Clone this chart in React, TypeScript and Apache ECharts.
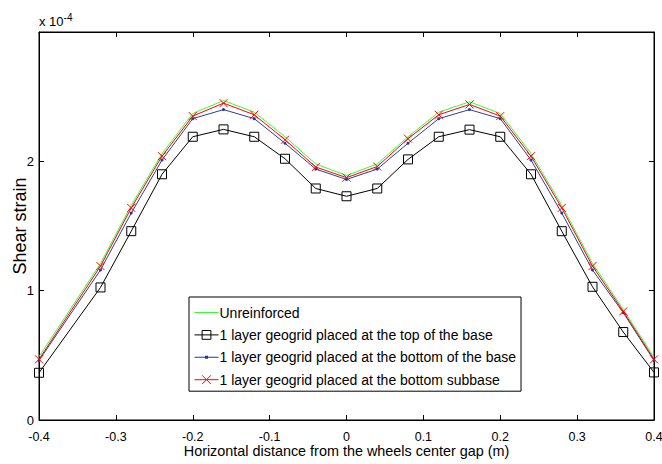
import React, { useEffect, useRef } from "react";
import * as echarts from "echarts";

// Horizontal positions (m) of the sampled points
const distance = [-0.4, -0.32, -0.28, -0.24, -0.2, -0.16, -0.12, -0.08, -0.04, 0, 0.04, 0.08, 0.12, 0.16, 0.2, 0.24, 0.28, 0.32, 0.36, 0.4];

// Shear strain values, in units of 1e-4
const unreinforced = [0.49, 1.21, 1.66, 2.06, 2.37, 2.47, 2.38, 2.19, 1.98, 1.89, 1.98, 2.19, 2.38, 2.46, 2.37, 2.06, 1.66, 1.21, 0.855, 0.485];
const topOfBase = [0.365, 1.025, 1.46, 1.9, 2.19, 2.247, 2.19, 2.02, 1.79, 1.73, 1.79, 2.015, 2.19, 2.245, 2.19, 1.9, 1.46, 1.03, 0.68, 0.368];
const bottomOfBase = [0.46, 1.16, 1.6, 2.01, 2.33, 2.4, 2.33, 2.14, 1.94, 1.86, 1.94, 2.14, 2.33, 2.4, 2.33, 2.01, 1.6, 1.16, 0.83, 0.46];
const bottomSubbase = [0.469, 1.19, 1.64, 2.04, 2.35, 2.45, 2.36, 2.167, 1.956, 1.874, 1.96, 2.175, 2.36, 2.44, 2.35, 2.04, 1.64, 1.19, 0.84, 0.469];

const seriesNames = [
  "Unreinforced",
  "1 layer geogrid placed at the top of the base",
  "1 layer geogrid placed at the bottom of the base",
  "1 layer geogrid placed at the bottom subbase",
];

const xTicks = { min: -0.4, max: 0.4, interval: 0.1 };
const yTicks = { min: 0, max: 3, interval: 1 };

const FONT = "Liberation Sans, Arial, sans-serif";

// Legend icons sized to the 24x11 icon box: a thin line, optionally with a small dot
const ICON_LINE = "path://M0,0M24,11M0,5L24,5L24,6L0,6Z";
const ICON_LINE_DOT = "path://M0,0M24,11M0,5L24,5L24,6L0,6ZM10.5,4L13.5,4L13.5,7L10.5,7Z";

const pairs = (ys: number[]) => distance.map((x, i) => [x, ys[i]]);

export default function App() {
  const ref = useRef<HTMLDivElement>(null);

  useEffect(() => {
    if (!ref.current) return;
    const chart = echarts.init(ref.current, null, { renderer: "svg" });

    const fmtX = (v: number) => {
      const r = Math.round(v * 10) / 10;
      return r === 0 ? "0" : String(r);
    };

    const axisLine = () => ({ show: true, onZero: false, lineStyle: { color: "#000", width: 1 } });
    const axisTick = () => ({ show: true, inside: true, length: 5, lineStyle: { color: "#000" } });

    chart.setOption({
      animation: false,
      backgroundColor: "#fff",
      textStyle: { fontFamily: FONT },
      grid: {
        left: 39,
        top: 32,
        right: 8,
        bottom: 44,
        containLabel: false,
        outerBoundsMode: "none",
        show: true,
        borderColor: "#000",
        borderWidth: 1,
        backgroundColor: "transparent",
      },
      xAxis: [
        {
          type: "value",
          ...xTicks,
          position: "bottom",
          axisLine: axisLine(),
          axisTick: axisTick(),
          axisLabel: { formatter: fmtX, color: "#000", fontSize: 12.5, lineHeight: 12, fontFamily: FONT, margin: 11 },
          splitLine: { show: false },
          name: "Horizontal distance from the wheels center gap (m)",
          nameLocation: "middle",
          nameGap: 24,
          nameMoveOverlap: false,
          nameTextStyle: { color: "#000", fontSize: 14.4, lineHeight: 14, fontFamily: FONT },
        },
        {
          type: "value",
          ...xTicks,
          position: "top",
          axisLine: axisLine(),
          axisTick: axisTick(),
          axisLabel: { show: false },
          splitLine: { show: false },
        },
      ],
      yAxis: [
        {
          type: "value",
          ...yTicks,
          position: "left",
          axisLine: axisLine(),
          axisTick: axisTick(),
          axisLabel: {
            formatter: (v: number) => (v >= 3 ? "" : String(v)),
            color: "#000",
            fontSize: 13,
            fontFamily: FONT,
            margin: 5,
          },
          splitLine: { show: false },
          name: "Shear strain",
          nameLocation: "middle",
          nameGap: 10,
          nameMoveOverlap: false,
          nameTextStyle: { color: "#000", fontSize: 18, fontFamily: FONT },
        },
        {
          type: "value",
          ...yTicks,
          position: "right",
          axisLine: axisLine(),
          axisTick: axisTick(),
          axisLabel: { show: false },
          splitLine: { show: false },
        },
      ],
      legend: {
        orient: "vertical",
        left: 189,
        top: 297,
        backgroundColor: "#fff",
        borderColor: "#000",
        borderWidth: 1,
        borderRadius: 0,
        padding: [8, 5, 4, 5],
        itemGap: 7.4,
        itemWidth: 24,
        itemHeight: 11,
        lineStyle: { width: 1 },
        itemStyle: { borderWidth: 1 },
        textStyle: { color: "#000", fontSize: 14, lineHeight: 15, fontFamily: FONT, padding: [0, 0, 0, -4] },
        data: [
          { name: seriesNames[0], icon: ICON_LINE },
          { name: seriesNames[1] },
          { name: seriesNames[2], icon: ICON_LINE_DOT },
          { name: seriesNames[3] },
        ],
      },
      graphic: [
        {
          type: "text",
          left: 39,
          top: 12,
          style: {
            text: "x 10{sup|-4}",
            fill: "#000",
            font: `13px ${FONT}`,
            rich: {
              sup: { fontSize: 10, verticalAlign: "top", padding: [0, 0, 8, 0], fontFamily: FONT },
            },
          },
        },
      ],
      series: [
        {
          name: seriesNames[0],
          type: "line",
          xAxisIndex: 0,
          yAxisIndex: 0,
          data: pairs(unreinforced),
          symbol: "none",
          lineStyle: { color: "#33ff33", width: 1 },
          itemStyle: { color: "#33ff33" },
          z: 2,
        },
        {
          name: seriesNames[1],
          type: "line",
          xAxisIndex: 0,
          yAxisIndex: 0,
          data: pairs(topOfBase),
          symbol: "rect",
          symbolSize: 9,
          showAllSymbol: true,
          lineStyle: { color: "#000", width: 1 },
          itemStyle: { color: "rgba(0,0,0,0)", borderColor: "#000", borderWidth: 1 },
          z: 3,
        },
        {
          name: seriesNames[2],
          type: "line",
          xAxisIndex: 0,
          yAxisIndex: 0,
          data: pairs(bottomOfBase),
          symbol: "circle",
          symbolSize: 3,
          showAllSymbol: true,
          lineStyle: { color: "#2a3f9a", width: 1 },
          itemStyle: { color: "#1f3a9a" },
          z: 4,
        },
        {
          name: seriesNames[3],
          type: "line",
          xAxisIndex: 0,
          yAxisIndex: 0,
          data: pairs(bottomSubbase),
          symbol: "path://M0,0L10,10M10,0L0,10",
          symbolSize: 8,
          showAllSymbol: true,
          lineStyle: { color: "#ff0000", width: 1 },
          itemStyle: { color: "rgba(0,0,0,0)", borderColor: "#ff0000", borderWidth: 1 },
          z: 5,
        },
        {
          // empty series that binds the top and right axes so their ticks are drawn
          name: "frame",
          type: "line",
          xAxisIndex: 1,
          yAxisIndex: 1,
          data: [],
          silent: true,
        },
      ],
    });

    return () => chart.dispose();
  }, []);

  return (
    <div
      ref={ref}
      style={{ position: "fixed", left: 0, top: 0, width: 662, height: 464, background: "#fff" }}
    />
  );
}
